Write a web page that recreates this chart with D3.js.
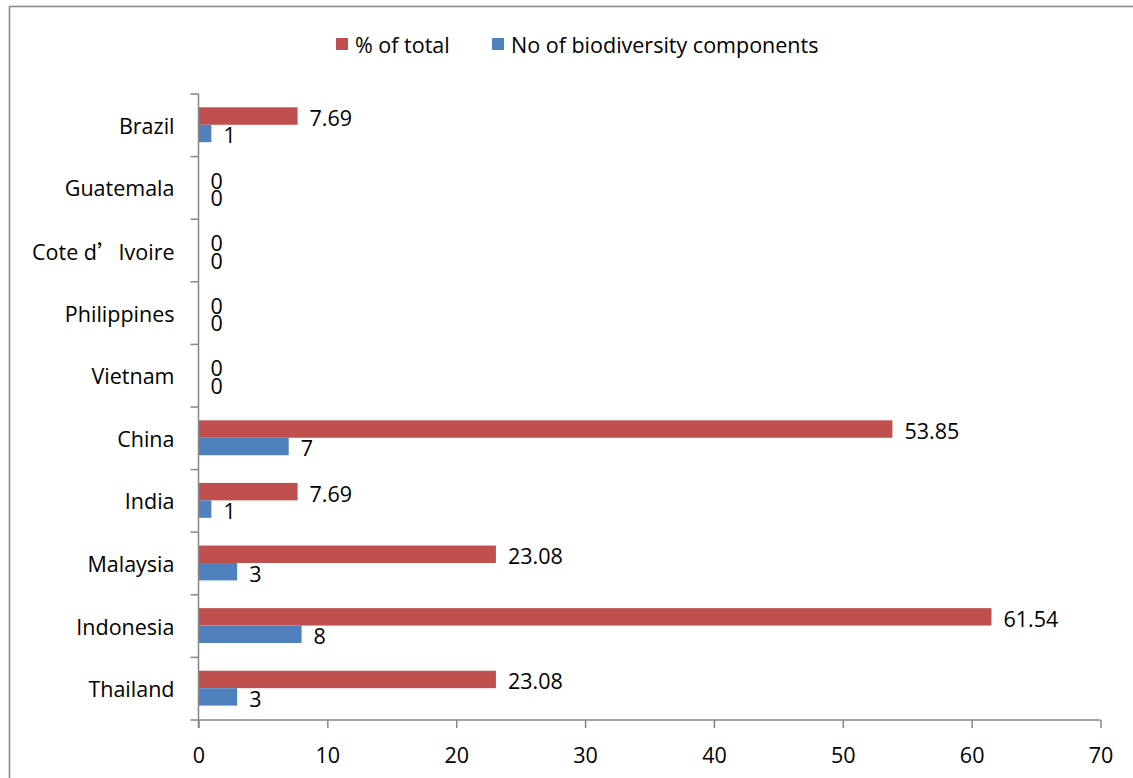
<!DOCTYPE html>
<html>
<head>
<meta charset="utf-8">
<script src="https://cdn.jsdelivr.net/npm/d3@7"></script>
<style>
  html, body { margin: 0; padding: 0; background: #fff; }
  svg { display: block; }
  text { font-family: "Open Sans", Lato, sans-serif; fill: #000; }
</style>
</head>
<body>
<svg id="chart" width="1133" height="778"></svg>
<script>
// Countries, listed top to bottom
const categories = ["Brazil", "Guatemala", "Cote d’Ivoire", "Philippines", "Vietnam",
                    "China", "India", "Malaysia", "Indonesia", "Thailand"];
const seriesNames = ["% of total", "No of biodiversity components"];
const percentOfTotal = [7.69, 0, 0, 0, 0, 53.85, 7.69, 23.08, 61.54, 23.08];
const componentCount = [1, 0, 0, 0, 0, 7, 1, 3, 8, 3];
const xTicks = [0, 10, 20, 30, 40, 50, 60, 70];
const colors = ["#C0504D", "#4F81BD"];

const svg = d3.select("#chart");
const W = 1133, H = 778;
const plot = { left: 198.5, right: 1100.5, top: 94, bottom: 720 };
const fontSize = 21.5;
const fontFamily = "'Open Sans', Lato, sans-serif";

// Outer chart frame
svg.append("rect")
  .attr("x", 9.5).attr("y", 6.5)
  .attr("width", W + 20).attr("height", H + 20)
  .attr("fill", "#fff").attr("stroke", "#8c8c8c").attr("stroke-width", 1.6);

const x = d3.scaleLinear().domain([0, 70]).range([plot.left, plot.right]);
const y = d3.scaleBand().domain(categories).range([plot.top, plot.bottom]).padding(0);
const bw = y.bandwidth();
const inner = d3.scaleBand().domain(seriesNames).range([bw * 0.213, bw * 0.77]).padding(0);

const rows = categories.map((c, i) => ({ c, vals: [percentOfTotal[i], componentCount[i]] }));

// Bars
const g = svg.append("g");
rows.forEach(r => {
  r.vals.forEach((v, k) => {
    g.append("rect")
      .attr("x", x(0))
      .attr("y", y(r.c) + inner(seriesNames[k]))
      .attr("width", x(v) - x(0))
      .attr("height", inner.bandwidth())
      .attr("fill", colors[k]);
  });
});

// Value labels
rows.forEach(r => {
  r.vals.forEach((v, k) => {
    g.append("text")
      .attr("x", x(v) + 12)
      .attr("y", y(r.c) + inner(seriesNames[k]) + inner.bandwidth() / 2 + 1.5)
      .attr("dominant-baseline", "central")
      .attr("font-size", fontSize)
      .text(v);
  });
});

// Axes
const axisColor = "#868686";
const xAxis = svg.append("g")
  .attr("transform", `translate(0,${plot.bottom})`)
  .call(d3.axisBottom(x).tickValues(xTicks).tickSize(8).tickPadding(20).tickFormat(d3.format("d")));
xAxis.select(".domain").attr("stroke", axisColor).attr("stroke-width", 1.5)
  .attr("d", `M${plot.left},0H${plot.right}`);
xAxis.selectAll(".tick line").attr("stroke", axisColor).attr("stroke-width", 1.5);
xAxis.selectAll(".tick text").attr("font-size", fontSize).attr("font-family", fontFamily).attr("fill", "#000");

// Category axis: ticks sit on band boundaries
const yAxisG = svg.append("g").attr("transform", `translate(${plot.left},0)`);
yAxisG.append("line")
  .attr("x1", 0).attr("x2", 0).attr("y1", plot.top).attr("y2", plot.bottom + 8)
  .attr("stroke", axisColor).attr("stroke-width", 1.5);
const boundaries = categories.map(c => y(c)).concat([plot.bottom]);
yAxisG.selectAll("line.tk").data(boundaries).join("line")
  .attr("class", "tk")
  .attr("x1", -8).attr("x2", 0).attr("y1", d => d).attr("y2", d => d)
  .attr("stroke", axisColor).attr("stroke-width", 1.5);

const catLabels = yAxisG.selectAll("text.cat").data(categories).join("text")
  .attr("class", "cat")
  .attr("x", -24)
  .attr("y", d => y(d) + bw / 2)
  .attr("text-anchor", "end")
  .attr("dominant-baseline", "central")
  .attr("font-size", fontSize);
catLabels.each(function(d) {
  const t = d3.select(this);
  const i = d.indexOf("’");
  if (i < 0) { t.text(d); return; }
  t.append("tspan").text(d.slice(0, i));
  t.append("tspan").attr("font-family", "'Noto Sans CJK SC'").text("’");
  t.append("tspan").text(d.slice(i + 1));
});

// Legend
const legend = svg.append("g");
const legendItems = [{ name: seriesNames[0], x: 336 }, { name: seriesNames[1], x: 492 }];
legendItems.forEach((it, k) => {
  legend.append("rect").attr("x", it.x).attr("y", 38).attr("width", 12).attr("height", 12).attr("fill", colors[k]);
  legend.append("text").attr("x", it.x + 19).attr("y", 44)
    .attr("dominant-baseline", "central").attr("font-size", fontSize).text(it.name);
});
</script>
</body>
</html>
